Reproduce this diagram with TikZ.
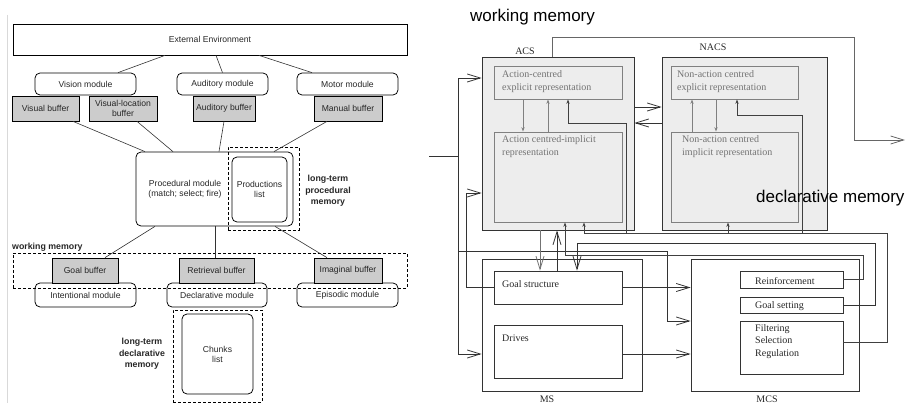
\documentclass[tikz,border=0pt]{standalone}
\usepackage{fontspec}
\setmainfont{Liberation Serif}
\setsansfont{Liberation Sans}
\usetikzlibrary{arrows.meta,calc}

\begin{document}
\begin{tikzpicture}[x=1pt, y=-1pt,
    every node/.style={inner sep=1pt},
    actr/.style={draw, line width=.75pt, font=\sffamily\fontsize{8.6}{10}\selectfont, text=black!85, align=center},
    module/.style={actr, rounded corners=5pt},
    buffer/.style={actr, fill=black!20},
    plaintext/.style={font=\sffamily\fontsize{8.6}{10}\selectfont, text=black!85, align=center},
    memdash/.style={draw, line width=.9pt, dash pattern=on 3pt off 2pt},
    memlabel/.style={font=\sffamily\bfseries\fontsize{8.8}{11.5}\selectfont, text=black!85, align=center},
    link/.style={line width=.6pt, black!80},
    clar/.style={draw=black!80, line width=.8pt},
    sub/.style={draw=black!50, line width=.8pt},
    subtext/.style={font=\fontsize{10}{13}\selectfont, text=black!55, align=left, anchor=west},
    boxtext/.style={font=\fontsize{10}{13}\selectfont, text=black!85, align=left, anchor=west},
    clarlabel/.style={font=\fontsize{10}{12}\selectfont, text=black!85},
    bigtext/.style={font=\sffamily\fontsize{17}{20}\selectfont, anchor=west},
    wire/.style={line width=.8pt, black!80, -{Straight Barb[length=13pt,width=8pt]}},
    fb/.style={line width=.8pt, black!75, -{Stealth[length=4.5pt,width=3.2pt]}},
    inarrow/.style={line width=.8pt, black!50, -{Stealth[length=4.5pt,width=3.2pt]}}]

    \useasboundingbox (0,0) rectangle (906,403);
    \draw[black!15, line width=.8pt] (7,15) -- (7,403);

    % ACT-R
    \node[actr, minimum width=394pt, minimum height=31pt] (env) at (210,39.5) {External Environment};

    \foreach \name/\x/\w/\txt in {vis/85.5/101/Vision module, aud/222.5/91/Auditory module, mot/347.5/101/Motor module}
    {
      \node[module, minimum width=\w pt, minimum height=22pt] (\name) at (\x,84) {\txt};
    }
    \foreach \name/\x/\w/\txt in {visbuf/45.5/67/Visual buffer, vislocbuf/123/68/Visual-location\\buffer, audbuf/224/62/Auditory buffer, manbuf/348/68/Manual buffer}
    {
      \node[buffer, minimum width=\w pt, minimum height=25pt] (\name) at (\x,108.5) {\txt};
    }

    \node[module, minimum width=157pt, minimum height=74pt] (proc) at (214.5,189) {};
    \node[plaintext] (proctext) at (185,189) {Procedural module\\(match; select; fire)};
    \node[module, minimum width=55pt, minimum height=65pt] (prod) at (259.5,189.5) {Productions\\list};
    \node[memdash, minimum width=71pt, minimum height=83pt] (proddash) at (263.5,188.5) {};
    \node[memlabel] (ltp) at (328,191) {long-term\\procedural\\memory};

    \foreach \name/\x/\w/\txt in {intmod/85.5/101/Intentional module, decmod/217/100/Declarative module, epimod/347.5/101/Episodic module}
    {
      \node[module, minimum width=\w pt, minimum height=24pt] (\name) at (\x,295) {\txt};
    }
    \foreach \name/\x/\w/\txt in {goalbuf/85/66/Goal buffer, retbuf/216.5/75/Retrieval buffer, imgbuf/348/68/Imaginal buffer}
    {
      \node[buffer, minimum width=\w pt, minimum height=25pt] (\name) at (\x,270.5) {\txt};
    }
    \node[memdash, minimum width=394pt, minimum height=35pt] (wm) at (210,270.5) {};
    \node[memlabel, anchor=west] (wmlabel) at (11,247) {working memory};

    \node[memdash, minimum width=89pt, minimum height=92pt] (chunkdash) at (217.5,356) {};
    \node[module, minimum width=71pt, minimum height=80pt] (chunks) at (217.5,354) {Chunks\\list};
    \node[memlabel] (ltd) at (142,354) {long-term\\declarative\\memory};

    \draw[link] ([xshift=-45pt]env.south) -- ([xshift=32.5pt]vis.north);
    \draw[link] ([xshift=6pt]env.south) -- (aud.north);
    \draw[link] ([xshift=49pt]env.south) -- ([xshift=-35.5pt]mot.north);
    \draw[link] ([xshift=27.5pt]visbuf.south) -- ([xshift=-69.5pt]proc.north);
    \draw[link] ([xshift=14pt]vislocbuf.south) -- ([xshift=-41.5pt]proc.north);
    \draw[link] (audbuf.south) -- ([xshift=4.5pt]proc.north);
    \draw[link] ([xshift=-21pt]manbuf.south) -- ([xshift=59.5pt]proc.north);
    \draw[link] ([xshift=-59.5pt]proc.south) -- ([xshift=20pt]goalbuf.north);
    \draw[link] ([xshift=.5pt]proc.south) -- ([xshift=-1.5pt]retbuf.north);
    \draw[link] ([xshift=60.5pt]proc.south) -- ([xshift=-21pt]imgbuf.north);

    % CLARION
    \node[bigtext] (wmtitle) at (469,17) {working memory};

    \node[clar, fill=black!7, minimum width=152pt, minimum height=173pt] (acs) at (558,143.5) {};
    \node[clar, fill=black!7, minimum width=165pt, minimum height=173pt] (nacs) at (744.5,143.5) {};
    \node[clarlabel] (acslabel) at (525,51) {ACS};
    \node[clarlabel] (nacslabel) at (713,47) {NACS};
    \node[sub, minimum width=128pt, minimum height=33pt] (acsexp) at (558,82.5) {};
    \node[sub, minimum width=128pt, minimum height=90pt] (acsimp) at (558,177) {};
    \node[sub, minimum width=127pt, minimum height=33pt] (nacsexp) at (734.5,82.5) {};
    \node[sub, minimum width=127pt, minimum height=90pt] (nacsimp) at (734.5,177) {};

    \node[clar, minimum width=160pt, minimum height=132pt] (ms) at (562,325) {};
    \node[clar, minimum width=168pt, minimum height=132pt] (mcs) at (775,325) {};
    \node[clarlabel] (mslabel) at (547,399) {MS};
    \node[clarlabel] (mcslabel) at (767,399) {MCS};
    \node[clar, minimum width=128pt, minimum height=33pt] (goal) at (558,287.5) {};
    \node[clar, minimum width=128pt, minimum height=53pt] (drives) at (558,351.5) {};
    \node[clar, minimum width=103pt, minimum height=17pt] (reinf) at (791.5,279.5) {};
    \node[clar, minimum width=103pt, minimum height=16pt] (goalset) at (791.5,305) {};
    \node[clar, minimum width=103pt, minimum height=53pt] (filt) at (791.5,347.5) {};

    \node[subtext] (acsexptext) at (501,81.5) {Action-centred\\explicit representation};
    \node[subtext] (acsimptext) at (501,147) {Action centred-implicit\\representation};
    \node[subtext] (nacsexptext) at (676,81.5) {Non-action centred\\explicit representation};
    \node[subtext] (nacsimptext) at (681,147) {Non-action centred\\implicit representation};
    \node[boxtext] (goaltext) at (501,284) {Goal structure};
    \node[boxtext] (drivestext) at (501,338) {Drives};
    \node[boxtext] (reinftext) at (754,281) {Reinforcement};
    \node[boxtext] (goalsettext) at (754,306) {Goal setting};
    \node[boxtext, font=\fontsize{10}{12.5}\selectfont] (filttext) at (754,341.5) {Filtering\\Selection\\Regulation};

    % wires
    \coordinate (in) at (429,156);
    \coordinate (sp) at (458,156);
    \coordinate (out) at (905,140);
    \draw[link, line width=.8pt] (in) -- (sp);
    \draw[wire] (sp) |- (acs.west |- 0,78);
    \draw[wire] (sp) |- (ms.west |- 0,354);
    \draw[wire] (sp |- 0,251) -| (667,321) -- (mcs.west |- 0,321);
    \draw[wire] (goal.west) -| (466,193) -- (acs.west |- 0,193);
    \draw[wire, black!60] ([xshift=-6pt]acs.north) |- (854,37) |- (out);
    \draw[wire] (acs.east |- 0,107) -- (nacs.west |- 0,107);
    \draw[wire] (nacs.west |- 0,123) -- (acs.east |- 0,123);

    \draw[inarrow] ([xshift=-35pt]acsexp.south) -- ([xshift=-35pt]acsimp.north);
    \draw[inarrow] ([xshift=-10pt]acsimp.north) -- ([xshift=-10pt]acsexp.south);
    \draw[inarrow] ([xshift=-42.5pt]nacsimp.north) -- ([xshift=-42.5pt]nacsexp.south);
    \draw[inarrow] ([xshift=-18.5pt]nacsexp.south) -- ([xshift=-18.5pt]nacsimp.north);

    \draw[fb] (filt.east |- 0,342) -| (887,233) -| ([xshift=26pt]acsimp.south);
    \draw[fb] (626,233) |- (568,123) -- ([xshift=10pt]acsexp.south);
    \draw[fb] (728,233) -- ([xshift=-6.5pt]nacsimp.south);
    \draw[fb] (802,233) |- (737,115) -- ([xshift=2.5pt]nacsexp.south);
    \draw[wire] (goalset.east) -| (875,243) -| ([xshift=19pt]goal.north);
    \draw[fb] (reinf.east) -| (863,255) -| ([xshift=7pt]acsimp.south);

    \draw[wire, black!55] ([xshift=-18pt]acs.south) -- ([xshift=-18pt]goal.north);
    \draw[wire] ([xshift=-1pt]goal.north) -- ([xshift=-1pt]acs.south);
    \draw[wire] (goal.east) -- (mcs.west |- goal.east);
    \draw[wire] (drives.east |- 0,354) -- (mcs.west |- 0,354);

    \node[bigtext] (dmtitle) at (755,198) {declarative memory};
\end{tikzpicture}
\end{document}
